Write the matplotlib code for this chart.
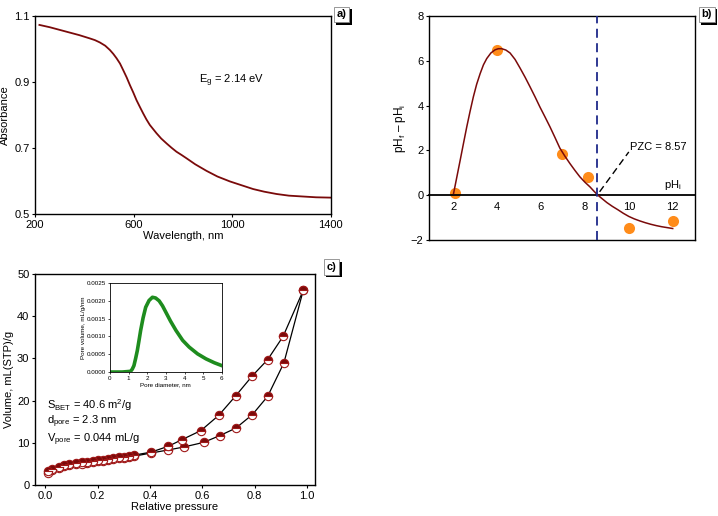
import matplotlib
matplotlib.use("Agg")
import matplotlib.pyplot as plt
import matplotlib.patheffects as pe

plt.rcParams['font.family'] = ['Liberation Sans', 'DejaVu Sans']
plt.rcParams['mathtext.fontset'] = 'custom'
plt.rcParams['mathtext.rm'] = 'Liberation Sans'
plt.rcParams['mathtext.it'] = 'Liberation Sans'
plt.rcParams['mathtext.default'] = 'regular'

# a) absorbance spectrum
wl = [218, 260, 300, 340, 380, 423, 443, 463, 485, 504, 518, 531, 545, 558, 572, 585, 599, 612,
      626, 639, 652, 666, 680, 693, 712, 734, 754, 774, 795, 815, 850, 896, 940, 991, 1040,
      1085, 1130, 1180, 1230, 1274, 1340, 1400]
absorb = [1.073, 1.066, 1.058, 1.050, 1.042, 1.032, 1.027, 1.020, 1.010, 0.997, 0.985, 0.972,
          0.956, 0.936, 0.914, 0.891, 0.868, 0.845, 0.824, 0.805, 0.787, 0.770, 0.757, 0.745,
          0.729, 0.714, 0.701, 0.689, 0.679, 0.669, 0.651, 0.631, 0.614, 0.599, 0.587, 0.576,
          0.568, 0.561, 0.556, 0.554, 0.551, 0.550]

# b) point of zero charge
ph_i = [2.1, 4.0, 6.95, 8.15, 10.0, 12.0]
d_ph = [0.1, 6.5, 1.85, 0.8, -1.45, -1.15]
fit_x = [2.02, 2.17, 2.32, 2.47, 2.62, 2.77, 2.92, 3.07, 3.23, 3.38, 3.53, 3.72, 3.91, 4.06,
         4.21, 4.40, 4.59, 4.82, 5.05, 5.28, 5.5, 5.73, 5.95, 6.18, 6.41, 6.64, 6.86, 7.09,
         7.32, 7.55, 7.77, 8.0, 8.23, 8.41, 8.59, 8.8, 9.0, 9.25, 9.5, 9.75, 10.0, 10.25,
         10.5, 10.75, 11.0, 11.25, 11.5, 11.75, 12.0]
fit_y = [0.08, 0.82, 1.56, 2.31, 3.05, 3.74, 4.39, 4.95, 5.43, 5.82, 6.1, 6.35, 6.49, 6.54,
         6.54, 6.48, 6.35, 6.06, 5.67, 5.26, 4.84, 4.39, 3.94, 3.50, 3.05, 2.57, 2.10, 1.74,
         1.41, 1.10, 0.82, 0.58, 0.37, 0.18, 0.0, -0.17, -0.33, -0.50, -0.65, -0.81, -0.95,
         -1.06, -1.15, -1.23, -1.3, -1.36, -1.41, -1.45, -1.49]
pzc = 8.57

# c) N2 isotherm
p_ads = [0.01, 0.025, 0.05, 0.07, 0.09, 0.115, 0.14, 0.16, 0.18, 0.20, 0.22, 0.24, 0.26, 0.28,
         0.30, 0.32, 0.34, 0.405, 0.468, 0.528, 0.604, 0.666, 0.728, 0.791, 0.849, 0.911, 0.985]
v_ads = [2.8, 3.6, 4.0, 4.4, 4.7, 4.9, 5.1, 5.3, 5.45, 5.6, 5.8, 5.95, 6.1, 6.3, 6.45, 6.65, 6.85,
         7.6, 8.3, 9.0, 10.1, 11.7, 13.5, 16.7, 21.0, 28.9, 46.1]
p_des = [0.985, 0.908, 0.849, 0.791, 0.728, 0.662, 0.594, 0.520, 0.470, 0.404, 0.34, 0.32, 0.30,
         0.28, 0.26, 0.24, 0.22, 0.20, 0.18, 0.16, 0.14, 0.115, 0.09, 0.07, 0.05, 0.025, 0.01]
v_des = [46.1, 35.2, 29.7, 25.9, 21.2, 16.5, 12.9, 10.7, 9.2, 7.8, 7.1, 6.9, 6.7, 6.55, 6.35,
         6.2, 6.0, 5.85, 5.7, 5.55, 5.35, 5.15, 4.95, 4.7, 4.35, 3.9, 3.3]

# inset: pore size distribution
pore_d = [0.0, 0.66, 1.11, 1.2, 1.29, 1.38, 1.47, 1.56, 1.65, 1.78, 1.92, 2.1, 2.28, 2.45, 2.64,
          2.82, 3.0, 3.25, 3.54, 3.9, 4.25, 4.7, 5.15, 5.6, 6.0]
pore_v = [0.0, 0.0, 0.00002, 0.00008, 0.00018, 0.00038, 0.0006, 0.00088, 0.00117, 0.00152,
          0.00182, 0.00201, 0.0021, 0.00208, 0.002, 0.00186, 0.00168, 0.00143, 0.00117,
          0.00089, 0.0007, 0.00051, 0.00037, 0.00026, 0.00018]

dark_red = '#7a0a0a'


def panel_label(fig, x, y, s):
    t = fig.text(x, y, s, fontsize=8, fontweight='bold', ha='left', va='top',
                 bbox=dict(boxstyle='square,pad=0.25', fc='white', ec='#888888', lw=0.6))
    t.get_bbox_patch().set_path_effects([
        pe.SimplePatchShadow(offset=(1.8, -1.8), shadow_rgbFace='black', alpha=1.0),
        pe.Normal()])


fig = plt.figure(figsize=(7.18, 5.16), dpi=100)

# ---- a)
ax1 = fig.add_axes([0.0487, 0.585, 0.412, 0.384])
ax1.plot(wl, absorb, color=dark_red, lw=1.3)
ax1.set_xlim(200, 1400)
ax1.set_ylim(0.5, 1.1)
ax1.set_xticks([200, 600, 1000, 1400])
ax1.set_yticks([0.5, 0.7, 0.9, 1.1])
ax1.set_xlabel('Wavelength, nm', fontsize=8, labelpad=1)
ax1.set_ylabel('Absorbance', fontsize=8, labelpad=3)
ax1.tick_params(labelsize=8, length=2, width=0.8, pad=2)
ax1.text(865, 0.895, 'E$_g$ = 2.14 eV', fontsize=8)
for s in ax1.spines.values():
    s.set_linewidth(1.0)

# ---- b)
ax2 = fig.add_axes([0.5975, 0.535, 0.370, 0.434])
ax2.plot(fit_x, fit_y, color=dark_red, lw=1.1, zorder=3)
ax2.plot(ph_i, d_ph, 'o', color='#ff8c1a', ms=8, mec='none', zorder=2)
ax2.axvline(pzc, color='#1f2a8a', ls=(0, (5, 3)), lw=1.3, zorder=4)
ax2.plot([8.67, 10.0], [0.15, 1.93], color='black', ls=(0, (5, 3)), lw=1.0)
ax2.text(10.05, 2.15, 'PZC = 8.57', fontsize=8, va='center')
ax2.text(12.0, 0.15, 'pH$_i$', fontsize=8, ha='center', va='bottom')
ax2.set_xlim(0.9, 13)
ax2.set_ylim(-2, 8)
ax2.set_xticks([2, 4, 6, 8, 10, 12])
ax2.set_yticks([-2, 0, 2, 4, 6, 8])
ax2.set_yticklabels(['\u22122', '0', '2', '4', '6', '8'])
ax2.spines['bottom'].set_position(('data', 0))
ax2.spines['bottom'].set_linewidth(1.3)
ax2.plot([0, 1], [0, 0], transform=ax2.transAxes, color='black', lw=1.0, clip_on=False)
for k in ['top', 'left', 'right']:
    ax2.spines[k].set_linewidth(1.0)
ax2.tick_params(labelsize=8, length=2, width=0.8, pad=2)
ax2.tick_params(axis='x', length=0, pad=5)
ax2.set_ylabel('pH$_f$ \u2013 pH$_i$', fontsize=8.5, labelpad=2)

# ---- c)
ax3 = fig.add_axes([0.0487, 0.060, 0.390, 0.409])
mk = dict(marker='o', ms=6, fillstyle='top', mfc=dark_red, mfcalt='white',
          mec='#a01818', mew=0.8)
ax3.plot(p_ads, v_ads, color='black', lw=0.9, **mk)
ax3.plot(p_des, v_des, color='black', lw=0.9, **mk)
ax3.set_xlim(-0.04, 1.03)
ax3.set_ylim(0, 50)
ax3.set_xticks([0.0, 0.2, 0.4, 0.6, 0.8, 1.0])
ax3.set_xticklabels(['0.0', '0.2', '0.4', '0.6', '0.8', '1.0'])
ax3.set_yticks([0, 10, 20, 30, 40, 50])
ax3.tick_params(labelsize=8, length=2, width=0.8, pad=2)
ax3.set_xlabel('Relative pressure', fontsize=8, labelpad=1)
ax3.set_ylabel('Volume, mL(STP)/g', fontsize=8, labelpad=2)
ax3.text(0.005, 19.0, 'S$_{BET}$ = 40.6 m$^2$/g', fontsize=8, va='center')
ax3.text(0.005, 14.9, 'd$_{pore}$ = 2.3 nm', fontsize=8, va='center')
ax3.text(0.005, 10.7, 'V$_{pore}$ = 0.044 mL/g', fontsize=8, va='center')
for s in ax3.spines.values():
    s.set_linewidth(1.0)

# inset
ax4 = fig.add_axes([0.153, 0.279, 0.156, 0.1725])
ax4.plot(pore_d, pore_v, color='#1e8c1e', lw=2.6)
ax4.set_xlim(0, 6)
ax4.set_ylim(0, 0.0025)
ax4.set_xticks([0, 1, 2, 3, 4, 5, 6])
ax4.set_yticks([0, 0.0005, 0.001, 0.0015, 0.002, 0.0025])
ax4.set_yticklabels(['0.0000', '0.0005', '0.0010', '0.0015', '0.0020', '0.0025'])
ax4.tick_params(labelsize=4.5, length=1.5, width=0.5, pad=1)
ax4.set_xlabel('Pore diameter, nm', fontsize=4.5, labelpad=1)
ax4.set_ylabel('Pore volume, mL/g/nm', fontsize=4.5, labelpad=1)
for s in ax4.spines.values():
    s.set_linewidth(0.6)

panel_label(fig, 0.469, 0.982, 'a)')
panel_label(fig, 0.977, 0.982, 'b)')
panel_label(fig, 0.455, 0.492, 'c)')

fig.savefig('out.png', dpi=100)
